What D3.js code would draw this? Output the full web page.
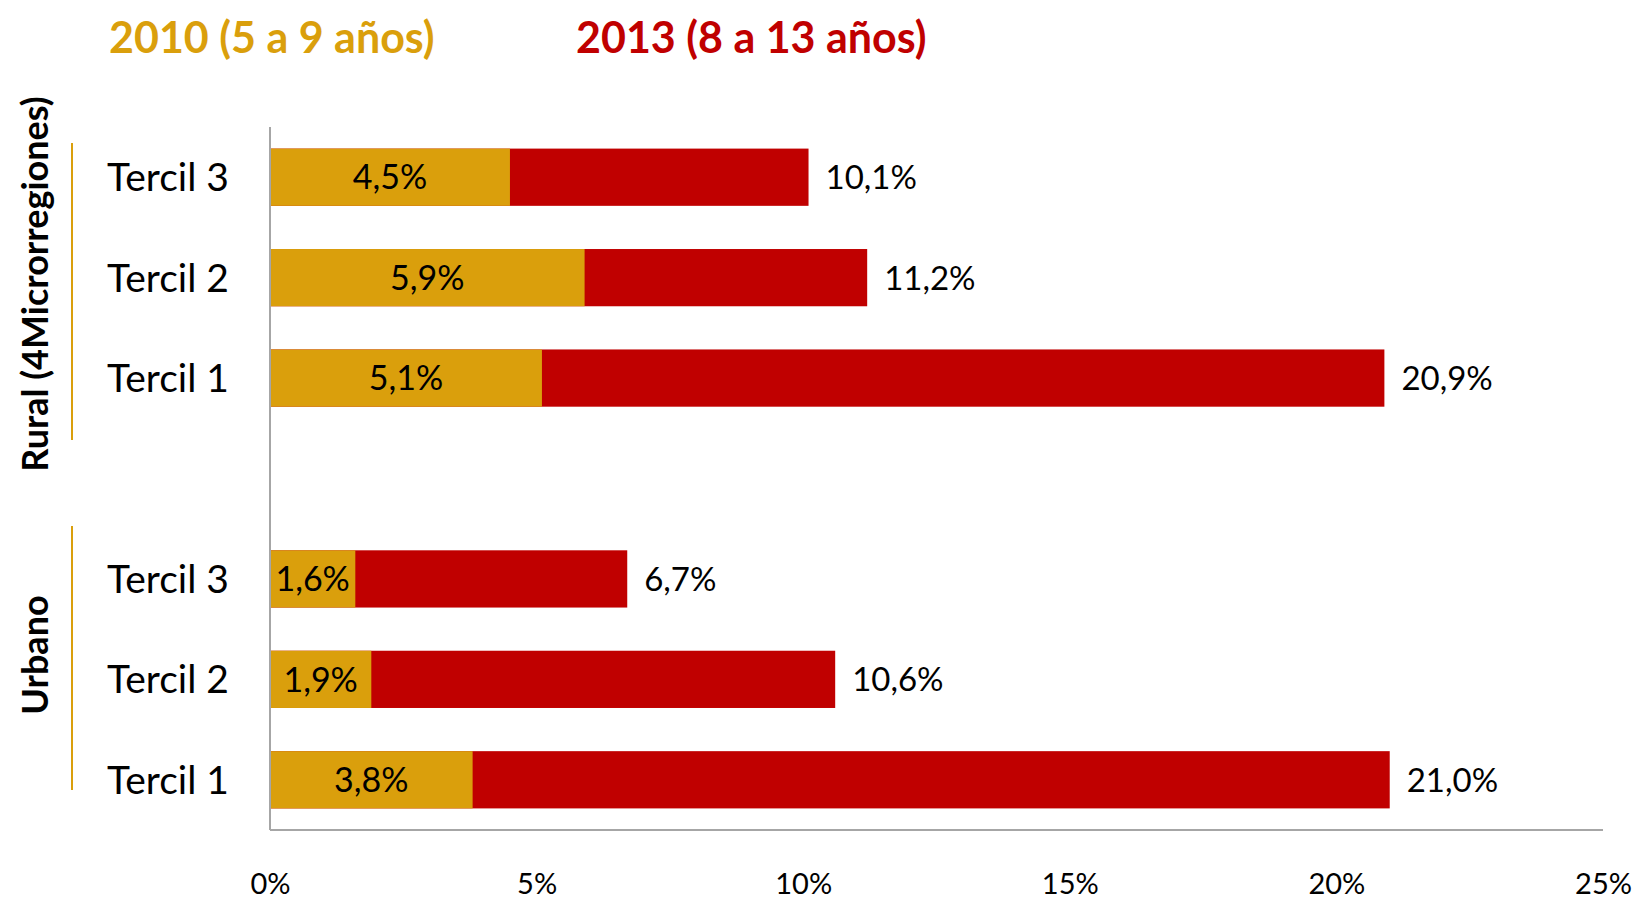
<!DOCTYPE html>
<html>
<head>
<meta charset="utf-8">
<script src="https://cdn.jsdelivr.net/npm/d3@7"></script>
<style>
  html, body { margin: 0; padding: 0; background: #fff; }
  svg { display: block; font-family: Lato, "Open Sans", sans-serif; }
</style>
</head>
<body>
<svg id="chart" width="1638" height="901"></svg>
<script>
// ---- data ----
const categories = ["R3", "R2", "R1", "gap", "U3", "U2", "U1"];
const categoryLabels = ["Tercil 3", "Tercil 2", "Tercil 1", "", "Tercil 3", "Tercil 2", "Tercil 1"];
const values2010 = [4.5, 5.9, 5.1, null, 1.6, 1.9, 3.8];
const values2013 = [10.1, 11.2, 20.9, null, 6.7, 10.6, 21.0];
const xTicks = [0, 5, 10, 15, 20, 25];
const groups = ["Rural (4Microrregiones)", "Urbano"];
const seriesNames = ["2010 (5 a 9 años)", "2013 (8 a 13 años)"];

(function () {
// ---- layout ----
const gold = "#DA9F0C", red = "#C00000", axisGray = "#a6a6a6";
const svg = d3.select("#chart");
const mLeft = 270, mRight = 1603, mTop = 127, mBottom = 830;

const x = d3.scaleLinear().domain([0, 25]).range([mLeft, mRight]);
const y = d3.scaleBand().domain(categories).range([mTop, mBottom]).paddingInner(0.43).paddingOuter(0.215);

const fmt = v => d3.format(".1f")(v).replace(".", ",") + "%";

const rows = categories.map((c, i) => ({c, label: categoryLabels[i], v10: values2010[i], v13: values2013[i]}))
  .filter(d => d.v10 !== null);

// bars 2013 (full length) then 2010 overlay
svg.append("g").selectAll("rect").data(rows).join("rect")
  .attr("x", x(0)).attr("y", d => y(d.c))
  .attr("width", d => x(d.v13) - x(0)).attr("height", y.bandwidth())
  .attr("fill", red);
svg.append("g").selectAll("rect").data(rows).join("rect")
  .attr("x", x(0)).attr("y", d => y(d.c))
  .attr("width", d => x(d.v10) - x(0)).attr("height", y.bandwidth())
  .attr("fill", gold);

// labels inside gold
svg.append("g").selectAll("text").data(rows).join("text")
  .attr("x", d => (x(0) + x(d.v10)) / 2)
  .attr("y", d => y(d.c) + y.bandwidth() / 2)
  .attr("dy", "0.36em").attr("text-anchor", "middle")
  .attr("font-size", 34).attr("fill", "#000")
  .text(d => fmt(d.v10));

// totals
svg.append("g").selectAll("text").data(rows).join("text")
  .attr("x", d => x(d.v13) + 17)
  .attr("y", d => y(d.c) + y.bandwidth() / 2)
  .attr("dy", "0.36em").attr("text-anchor", "start")
  .attr("font-size", 33).attr("fill", "#000")
  .text(d => fmt(d.v13));

// category labels
svg.append("g").selectAll("text").data(rows).join("text")
  .attr("x", 229)
  .attr("y", d => y(d.c) + y.bandwidth() / 2)
  .attr("dy", "0.36em").attr("text-anchor", "end")
  .attr("font-size", 39).attr("fill", "#000")
  .text(d => d.label);

// axes lines
const xAxis = d3.axisBottom(x).tickValues(xTicks).tickSize(0).tickFormat(d => d + "%");
const gx = svg.append("g").attr("transform", `translate(0,${mBottom})`).call(xAxis);
gx.select(".domain").attr("stroke", axisGray).attr("stroke-width", 2).attr("d", `M${mLeft},0H${mRight}`);
gx.selectAll("text").attr("font-size", 29).attr("fill", "#000").attr("font-family", "Lato, sans-serif").attr("y", 54).attr("dy", "0.36em");

const yAxis = d3.axisLeft(y).tickSize(0).tickFormat("");
const gy = svg.append("g").attr("transform", `translate(${mLeft},0)`).call(yAxis);
gy.select(".domain").attr("stroke", axisGray).attr("stroke-width", 2).attr("d", `M0,${mTop}V${mBottom}`);

// group brackets
const groupLines = [[143, 440], [526, 790]];
const groupCenters = [284, 655];
groups.forEach((g, i) => {
  svg.append("line").attr("x1", 72).attr("x2", 72)
    .attr("y1", groupLines[i][0]).attr("y2", groupLines[i][1])
    .attr("stroke", gold).attr("stroke-width", 2);
  svg.append("text")
    .attr("transform", `translate(35,${groupCenters[i]}) rotate(-90)`)
    .attr("text-anchor", "middle").attr("dy", "0.36em")
    .attr("font-size", 36).attr("font-weight", "bold").attr("fill", "#000")
    .text(g);
});

// legend titles
svg.append("text").attr("x", 109).attr("y", 53).attr("font-size", 43).attr("font-weight", "bold")
  .attr("fill", gold).text(seriesNames[0]);
svg.append("text").attr("x", 576).attr("y", 53).attr("font-size", 43).attr("font-weight", "bold")
  .attr("fill", red).text(seriesNames[1]);
})();
</script>
</body>
</html>
